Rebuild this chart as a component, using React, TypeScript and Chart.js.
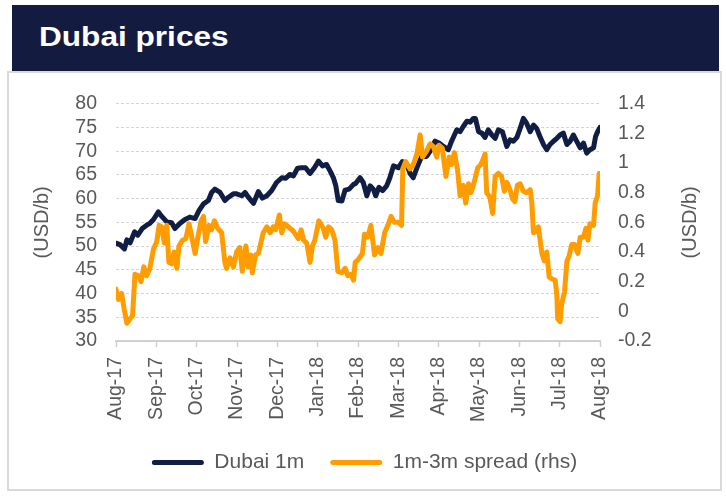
import React, { useEffect, useRef } from 'react';
import { Chart, registerables } from 'chart.js';

Chart.register(...registerables);

const chartTitle = 'Dubai prices';
const axisTitle = '(USD/b)';
const monthLabels = ['Aug-17', 'Sep-17', 'Oct-17', 'Nov-17', 'Dec-17', 'Jan-18', 'Feb-18', 'Mar-18', 'Apr-18', 'May-18', 'Jun-18', 'Jul-18', 'Aug-18'];
const seriesNames = ['Dubai 1m', '1m-3m spread (rhs)'];
const seriesColors = ['#101d45', '#ff9c00'];
const leftAxis = { min: 30, max: 80, step: 5 };
const rightAxis = { min: -0.2, max: 1.4, step: 0.2 };

// [months since Aug-17, USD/b]
const dubai1m: [number, number][] = [
  [0, 50.6], [0.10, 50.3], [0.21, 49.4], [0.27, 51.3], [0.35, 50.7], [0.46, 53.0], [0.54, 52.3], [0.65, 53.7], [0.76, 54.4], [0.84, 54.8],
  [0.93, 55.6], [1.05, 57.2], [1.13, 56.3], [1.26, 55.1], [1.38, 54.9], [1.46, 53.7], [1.59, 54.8], [1.71, 55.6], [1.83, 56.1], [1.96, 55.8],
  [2.06, 57.5], [2.17, 58.9], [2.29, 59.6], [2.37, 61.3], [2.45, 62.0], [2.58, 61.3], [2.70, 59.6], [2.79, 60.3], [2.91, 61.0], [2.99, 61.0],
  [3.12, 60.6], [3.20, 61.3], [3.28, 60.3], [3.41, 59.0], [3.53, 61.5], [3.63, 60.1], [3.74, 60.6], [3.86, 61.7], [3.98, 63.4], [4.11, 64.4],
  [4.21, 64.3], [4.31, 65.1], [4.40, 64.8], [4.50, 66.4], [4.60, 66.5], [4.70, 66.5], [4.81, 65.3], [4.92, 66.5], [5.02, 67.9], [5.12, 66.9],
  [5.22, 67.2], [5.31, 65.8], [5.39, 64.4], [5.45, 62.7], [5.51, 59.6], [5.60, 59.5], [5.68, 61.8], [5.78, 62.0], [5.89, 63.0], [5.94, 63.2],
  [6.05, 64.4], [6.13, 63.4], [6.22, 60.6], [6.30, 62.7], [6.38, 62.0], [6.44, 60.6], [6.52, 62.4], [6.61, 61.7], [6.71, 62.7], [6.79, 64.4],
  [6.88, 66.9], [7.00, 66.5], [7.10, 67.8], [7.21, 67.2], [7.29, 65.3], [7.37, 64.4], [7.46, 66.5], [7.58, 68.9], [7.70, 68.9], [7.79, 70.0],
  [7.91, 72.1], [8.01, 71.7], [8.12, 71.0], [8.24, 70.3], [8.32, 72.1], [8.45, 74.5], [8.53, 74.1], [8.61, 75.2], [8.70, 76.3], [8.78, 76.1],
  [8.86, 76.9], [8.91, 76.9], [8.99, 74.1], [9.07, 73.8], [9.15, 72.9], [9.23, 74.5], [9.32, 73.4], [9.40, 72.7], [9.48, 74.5], [9.58, 74.1],
  [9.69, 71.0], [9.77, 72.4], [9.85, 72.1], [9.94, 72.9], [10.02, 74.8], [10.10, 76.9], [10.18, 75.9], [10.27, 74.1], [10.35, 75.5], [10.43, 74.8],
  [10.51, 73.1], [10.60, 71.4], [10.68, 70.3], [10.76, 71.4], [10.85, 72.1], [10.93, 72.7], [11.01, 73.4], [11.09, 73.8], [11.18, 71.4], [11.26, 72.1],
  [11.34, 73.4], [11.42, 72.1], [11.51, 70.7], [11.59, 71.7], [11.67, 69.6], [11.75, 70.3], [11.84, 70.7], [11.89, 73.1], [11.94, 74.1], [12.00, 75.0],
];

// [months since Aug-17, USD/b spread]
const spread1m3m: [number, number][] = [
  [0, 0.15], [0.06, 0.08], [0.14, 0.12], [0.20, 0.02], [0.27, -0.08], [0.35, -0.05], [0.41, -0.03], [0.47, 0.25], [0.56, 0.24], [0.62, 0.20],
  [0.69, 0.30], [0.76, 0.24], [0.84, 0.29], [0.93, 0.42], [1.01, 0.47], [1.07, 0.58], [1.13, 0.57], [1.20, 0.46], [1.26, 0.58], [1.31, 0.33],
  [1.38, 0.32], [1.44, 0.40], [1.51, 0.29], [1.56, 0.44], [1.65, 0.48], [1.73, 0.49], [1.81, 0.59], [1.88, 0.50], [1.96, 0.39], [2.03, 0.50],
  [2.11, 0.61], [2.17, 0.64], [2.22, 0.47], [2.31, 0.58], [2.37, 0.55], [2.44, 0.61], [2.52, 0.56], [2.62, 0.53], [2.70, 0.33], [2.74, 0.29],
  [2.83, 0.36], [2.91, 0.30], [2.99, 0.40], [3.07, 0.43], [3.13, 0.27], [3.22, 0.44], [3.28, 0.30], [3.34, 0.38], [3.38, 0.26], [3.46, 0.38],
  [3.53, 0.39], [3.59, 0.46], [3.65, 0.53], [3.74, 0.57], [3.82, 0.53], [3.90, 0.57], [3.96, 0.55], [4.05, 0.65], [4.11, 0.53], [4.18, 0.59],
  [4.27, 0.57], [4.40, 0.54], [4.52, 0.49], [4.59, 0.55], [4.65, 0.48], [4.73, 0.46], [4.81, 0.33], [4.87, 0.44], [4.93, 0.48], [5.03, 0.61],
  [5.14, 0.56], [5.20, 0.50], [5.27, 0.57], [5.35, 0.55], [5.43, 0.48], [5.50, 0.27], [5.60, 0.26], [5.68, 0.29], [5.75, 0.24], [5.83, 0.25],
  [5.89, 0.21], [5.93, 0.33], [6.01, 0.35], [6.11, 0.39], [6.16, 0.52], [6.24, 0.50], [6.32, 0.58], [6.41, 0.38], [6.49, 0.43], [6.57, 0.39],
  [6.66, 0.53], [6.74, 0.58], [6.82, 0.64], [6.90, 0.60], [7.00, 0.60], [7.08, 0.58], [7.11, 0.96], [7.18, 1.01], [7.29, 0.96], [7.37, 0.99],
  [7.46, 1.06], [7.54, 1.19], [7.60, 1.04], [7.70, 1.08], [7.79, 1.13], [7.87, 1.11], [7.95, 1.04], [8.01, 1.12], [8.09, 1.10], [8.18, 0.91],
  [8.26, 1.04], [8.32, 0.99], [8.39, 1.07], [8.47, 0.95], [8.53, 0.78], [8.61, 0.85], [8.67, 0.73], [8.74, 0.86], [8.80, 0.80], [8.89, 0.88],
  [8.97, 0.97], [9.05, 0.99], [9.15, 1.06], [9.19, 0.80], [9.27, 0.77], [9.34, 0.66], [9.40, 0.91], [9.48, 0.93], [9.56, 0.91], [9.63, 0.81],
  [9.69, 0.87], [9.77, 0.82], [9.83, 0.76], [9.89, 0.74], [9.95, 0.85], [10.02, 0.86], [10.10, 0.81], [10.18, 0.80], [10.27, 0.82], [10.31, 0.73],
  [10.35, 0.53], [10.43, 0.54], [10.47, 0.57], [10.56, 0.39], [10.62, 0.34], [10.68, 0.40], [10.74, 0.23], [10.80, 0.22], [10.89, 0.21], [10.93, 0.11],
  [10.95, -0.05], [11.01, -0.07], [11.05, 0.05], [11.12, 0.13], [11.18, 0.34], [11.23, 0.37], [11.30, 0.45], [11.37, 0.45], [11.45, 0.39], [11.51, 0.50],
  [11.59, 0.50], [11.65, 0.56], [11.70, 0.48], [11.75, 0.59], [11.84, 0.58], [11.88, 0.73], [11.94, 0.78], [11.98, 0.93],
];

const FONT = '"Liberation Sans", Arial, sans-serif';
const TEXT = '#595959';

const axisTitlesPlugin = {
  id: 'axisTitles',
  afterDraw(chart: any) {
    const { ctx, chartArea } = chart;
    const cy = (chartArea.top + chartArea.bottom) / 2;
    const xs = [chart.scales.y.left + 33, chart.scales.y1.right - 30];
    ctx.save();
    ctx.font = `20px ${FONT}`;
    ctx.fillStyle = TEXT;
    ctx.textAlign = 'center';
    ctx.textBaseline = 'middle';
    xs.forEach((x) => {
      ctx.save();
      ctx.translate(x, cy);
      ctx.rotate(-Math.PI / 2);
      ctx.fillText(axisTitle, 0, 0);
      ctx.restore();
    });
    ctx.restore();
  },
};

export default function App() {
  const ref = useRef<HTMLCanvasElement | null>(null);

  useEffect(() => {
    if (!ref.current) return;
    const chart = new Chart(ref.current, {
      type: 'line',
      data: {
        datasets: [
          {
            label: seriesNames[0],
            data: dubai1m.map(([x, y]) => ({ x, y })),
            borderColor: seriesColors[0],
            backgroundColor: seriesColors[0],
            borderWidth: 5,
            pointRadius: 0,
            tension: 0,
            yAxisID: 'y',
            order: 1,
            borderJoinStyle: 'round',
            borderCapStyle: 'round',
          },
          {
            label: seriesNames[1],
            data: spread1m3m.map(([x, y]) => ({ x, y })),
            borderColor: seriesColors[1],
            backgroundColor: seriesColors[1],
            borderWidth: 5,
            pointRadius: 0,
            tension: 0,
            yAxisID: 'y1',
            order: 0,
            borderJoinStyle: 'round',
            borderCapStyle: 'round',
          },
        ],
      },
      options: {
        animation: false,
        responsive: false,
        maintainAspectRatio: false,
        events: [],
        layout: { padding: { top: 27, left: 0, right: 0, bottom: 13 } },
        plugins: {
          tooltip: { enabled: false },
          legend: {
            position: 'bottom',
            maxHeight: 50,
            labels: {
              color: TEXT,
              font: { size: 21, family: FONT },
              boxWidth: 52,
              boxHeight: 5,
              padding: 26,
              generateLabels: () =>
                seriesNames.map((name, i) => ({
                  text: name,
                  fillStyle: seriesColors[i],
                  strokeStyle: seriesColors[i],
                  lineWidth: 0,
                  hidden: false,
                  datasetIndex: i,
                  fontColor: TEXT,
                  borderRadius: 2.5,
                })),
            },
          },
        },
        scales: {
          x: {
            type: 'linear',
            min: 0,
            max: monthLabels.length - 1,
            afterFit: (s: any) => { s.height = 85; },
            afterBuildTicks: (s: any) => { s.ticks = monthLabels.map((_, i) => ({ value: i })); },
            ticks: {
              stepSize: 1,
              autoSkip: false,
              minRotation: 90,
              maxRotation: 90,
              padding: 10,
              color: TEXT,
              font: { size: 19.5, family: FONT },
              callback: (v: any) => monthLabels[Math.round(Number(v))] ?? '',
            },
            grid: {
              display: true,
              drawOnChartArea: false,
              drawTicks: true,
              tickLength: 6,
              tickColor: '#d0d0d0',
              tickWidth: 1.5,
            },
            border: { display: true, color: '#d0d0d0', width: 2 },
          },
          y: {
            position: 'left',
            min: leftAxis.min,
            max: leftAxis.max,
            afterFit: (s: any) => { s.width = 107; },
            ticks: {
              stepSize: leftAxis.step,
              autoSkip: false,
              padding: 19,
              color: TEXT,
              font: { size: 19.5, family: FONT },
            },
            grid: { color: '#d4d4d4', lineWidth: 1, drawTicks: false },
            border: { display: false, dash: [3, 2] },
          },
          y1: {
            position: 'right',
            min: rightAxis.min,
            max: rightAxis.max,
            afterFit: (s: any) => { s.width = 120; },
            ticks: {
              stepSize: rightAxis.step,
              autoSkip: false,
              padding: 18,
              color: TEXT,
              font: { size: 19.5, family: FONT },
              callback: (v: any) => String(Math.round(Number(v) * 10) / 10),
            },
            grid: { display: false, drawTicks: false },
            border: { display: false },
          },
        },
      },
      plugins: [axisTitlesPlugin],
    } as any);
    return () => chart.destroy();
  }, []);

  return (
    <div style={{ position: 'fixed', left: 0, top: 0, width: 726, height: 496, background: '#fff', overflow: 'hidden' }}>
      <div style={{ position: 'absolute', left: 12, top: 5, width: 707, height: 66, background: '#131c40' }}>
        <span
          style={{
            position: 'absolute',
            left: 27,
            top: 19,
            font: `bold 27px ${FONT}`,
            lineHeight: '27px',
            color: '#fff',
            whiteSpace: 'nowrap',
            transform: 'scaleX(1.17)',
            transformOrigin: 'left center',
          }}
        >
          {chartTitle}
        </span>
      </div>
      <div
        style={{
          position: 'absolute',
          left: 7,
          top: 71,
          width: 715,
          height: 420,
          boxSizing: 'border-box',
          border: '2px solid #d9d9d9',
        }}
      />
      <canvas ref={ref} width={711} height={416} style={{ position: 'absolute', left: 9, top: 73, width: 711, height: 416 }} />
    </div>
  );
}
